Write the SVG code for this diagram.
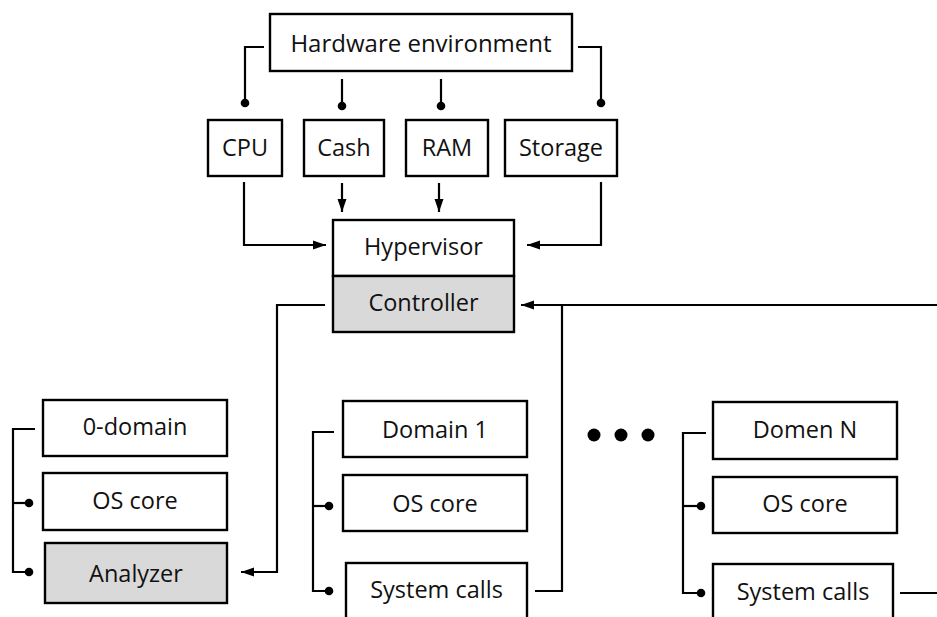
<svg xmlns="http://www.w3.org/2000/svg" width="937" height="617" viewBox="0 0 937 617">
<defs>
<marker id="arr" markerUnits="userSpaceOnUse" markerWidth="14" markerHeight="12" viewBox="0 0 14 12" refX="13" refY="6" orient="auto">
<path d="M0,1.5 L13,6 L0,10.5 Z" fill="#000"/>
</marker>
<marker id="dot" markerUnits="userSpaceOnUse" markerWidth="12" markerHeight="12" viewBox="0 0 12 12" refX="6" refY="6" orient="auto">
<circle cx="6" cy="6" r="4.3" fill="#000"/>
</marker>
<style>
.box{fill:#fff;stroke:#000;stroke-width:2.4}
.grey{fill:#d9d9d9}
.lbl{font-family:"Open Sans","Noto Sans","DejaVu Sans",sans-serif;font-size:23.5px;fill:#111;text-anchor:middle}
.c{fill:none;stroke:#000;stroke-width:2.2}
.a{marker-end:url(#arr)}
.d{marker-end:url(#dot)}
</style>
</defs>
<rect width="937" height="617" fill="#fff"/>
<g id="connectors">
<path class="c d" d="M264,47 H245 V103"/>
<path class="c d" d="M342,79 V106"/>
<path class="c d" d="M441,79 V106"/>
<path class="c d" d="M578,47 H601 V103"/>
<path class="c a" d="M244,182 V245 H326"/>
<path class="c a" d="M342,183 V212"/>
<path class="c a" d="M439,183 V212"/>
<path class="c a" d="M601,182 V245 H527"/>
<path class="c a" d="M325,305 H277 V572 H241"/>
<path class="c a" d="M937,305 H521"/>
<path class="c" d="M535,591 H562 V305"/>
<path class="c" d="M900,593 H937"/>
<path class="c d" d="M35,429 H13 V572 H29"/>
<path class="c d" d="M13,503 H29"/>
<path class="c d" d="M334,432 H313 V591 H329"/>
<path class="c d" d="M313,506 H329"/>
<path class="c d" d="M706,433 H683 V593 H701"/>
<path class="c d" d="M683,506 H701"/>
</g>
<g id="ellipsis">
<circle cx="594" cy="435" r="6.5" fill="#000"/>
<circle cx="621" cy="435" r="6.5" fill="#000"/>
<circle cx="648" cy="435" r="6.5" fill="#000"/>
</g>
<g id="hardware"><rect class="box" x="270" y="14" width="302" height="57"/><text class="lbl" x="421" y="52" style="font-size:24px">Hardware environment</text></g>
<g id="cpu"><rect class="box" x="208" y="120" width="74" height="56"/><text class="lbl" x="245" y="156">CPU</text></g>
<g id="cash"><rect class="box" x="304" y="120" width="80" height="56"/><text class="lbl" x="344" y="156">Cash</text></g>
<g id="ram"><rect class="box" x="406" y="120" width="82" height="56"/><text class="lbl" x="447" y="156">RAM</text></g>
<g id="storage"><rect class="box" x="505" y="120" width="112" height="56"/><text class="lbl" x="561" y="156">Storage</text></g>
<g id="hypervisor"><rect class="box" x="333" y="220" width="181" height="56"/><text class="lbl" x="423.5" y="255">Hypervisor</text></g>
<g id="controller"><rect class="box grey" x="333" y="276" width="181" height="56"/><text class="lbl" x="423.5" y="311">Controller</text></g>
<g id="domain0"><rect class="box" x="43" y="400" width="184" height="56"/><text class="lbl" x="135" y="435">0-domain</text></g>
<g id="oscore0"><rect class="box" x="43" y="473" width="184" height="57"/><text class="lbl" x="135" y="509">OS core</text></g>
<g id="analyzer"><rect class="box grey" x="45" y="543" width="182" height="60"/><text class="lbl" x="136" y="582">Analyzer</text></g>
<g id="domain1"><rect class="box" x="343" y="401" width="184" height="56"/><text class="lbl" x="435" y="438">Domain 1</text></g>
<g id="oscore1"><rect class="box" x="343" y="475" width="184" height="56"/><text class="lbl" x="435" y="512">OS core</text></g>
<g id="syscalls1"><rect class="box" x="346" y="563" width="181" height="70"/><text class="lbl" x="436.5" y="598">System calls</text></g>
<g id="domainN"><rect class="box" x="713" y="402" width="184" height="57"/><text class="lbl" x="805" y="438">Domen N</text></g>
<g id="oscoreN"><rect class="box" x="713" y="477" width="184" height="56"/><text class="lbl" x="805" y="512">OS core</text></g>
<g id="syscallsN"><rect class="box" x="713" y="564" width="180" height="70"/><text class="lbl" x="803" y="600">System calls</text></g>
</svg>
